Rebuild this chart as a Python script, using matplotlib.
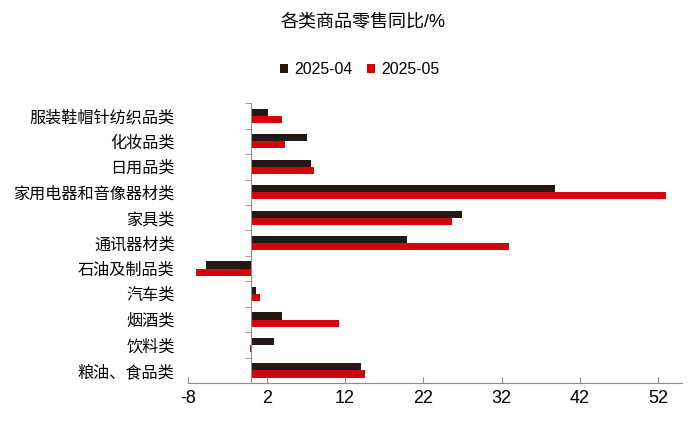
import matplotlib.pyplot as plt
import numpy as np

plt.rcParams['font.family'] = ['Liberation Sans', 'Noto Sans CJK SC']
plt.rcParams['axes.unicode_minus'] = False

categories = ['服装鞋帽针纺织品类', '化妆品类', '日用品类', '家用电器和音像器材类', '家具类',
              '通讯器材类', '石油及制品类', '汽车类', '烟酒类', '饮料类', '粮油、食品类']
apr = [2.2, 7.2, 7.6, 38.8, 26.9, 19.9, -5.7, 0.7, 4.0, 3.0, 14.0]
may = [4.0, 4.4, 8.0, 53.0, 25.6, 33.0, -7.0, 1.1, 11.2, -0.1, 14.6]
xticks = [-8, 2, 12, 22, 32, 42, 52]

c_apr = '#231815'
c_may = '#d9000d'
grey = '#8c8c8c'

fig = plt.figure(figsize=(7, 4.3), dpi=100)
ax = fig.add_axes([0.269, 0.109, 0.705, 0.651])

y = np.arange(len(categories))
h = 0.28
ax.barh(y - h / 2, apr, height=h, color=c_apr, label='2025-04')
ax.barh(y + h / 2, may, height=h, color=c_may, label='2025-05')

ax.set_xlim(-8, 55)
ax.set_ylim(len(categories) - 0.5, -0.5)
ax.set_xticks(xticks)
ax.tick_params(axis='x', direction='in', length=4, color=grey, labelsize=13, pad=5)

ax.set_yticks(y)
ax.set_yticklabels(categories)
ax.set_yticks(np.arange(len(categories) + 1) - 0.5, minor=True)
ax.tick_params(axis='y', which='major', length=0, pad=55, labelsize=11.6)
ax.tick_params(axis='y', which='minor', length=4, color=grey)

for s in ['top', 'right']:
    ax.spines[s].set_visible(False)
ax.spines['left'].set_position(('data', 0))
ax.spines['left'].set_color(grey)
ax.spines['bottom'].set_color(grey)

fig.text(0.518, 0.949, '各类商品零售同比/%', ha='center', va='center', fontsize=13)
fig.legend(loc='center', bbox_to_anchor=(0.514, 0.838), ncol=2, frameon=False, fontsize=11.4,
           handlelength=0.5, handleheight=0.5, handletextpad=0.4, columnspacing=0.9)

fig.savefig('out.png', dpi=100)
